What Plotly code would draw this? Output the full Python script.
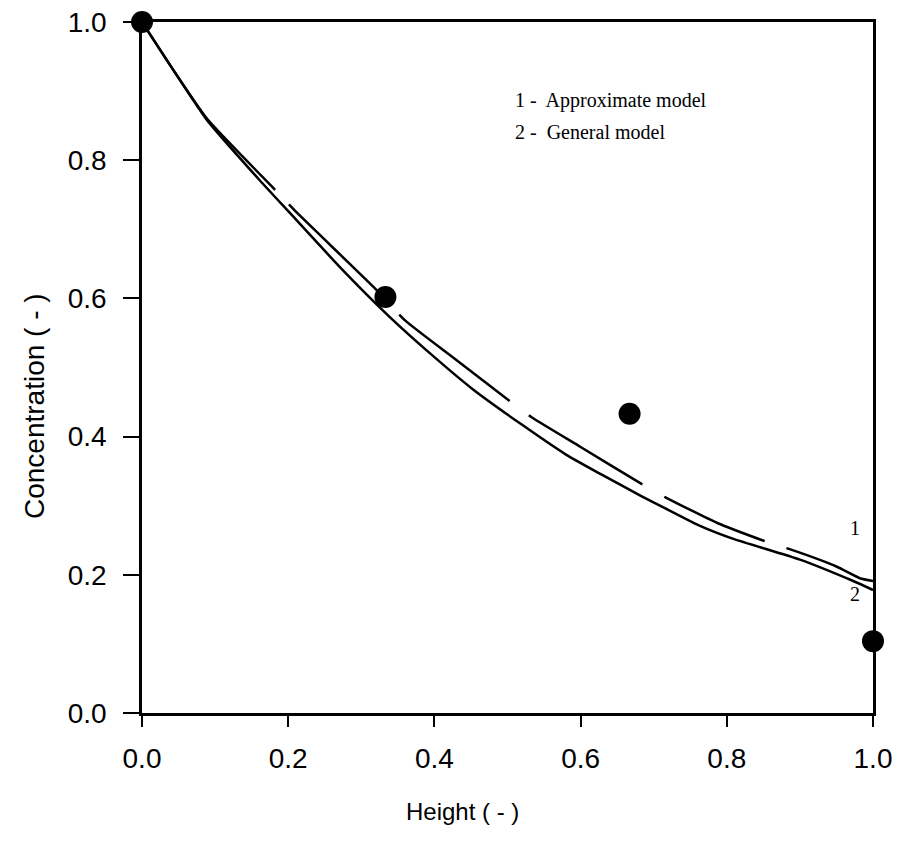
import plotly.graph_objects as go

# Experimental data
exp_x = [0.0, 0.333, 0.667, 1.0]
exp_y = [1.0, 0.602, 0.433, 0.104]

# Curve 2 - General model (solid)
gen_x = [0.0, 0.04, 0.089, 0.161, 0.202, 0.271, 0.339, 0.4, 0.452, 0.52, 0.58,
         0.627, 0.683, 0.718, 0.761, 0.809, 0.9, 0.973, 1.0]
gen_y = [1.0, 0.935, 0.858, 0.771, 0.724, 0.645, 0.573, 0.515, 0.469, 0.417, 0.374,
         0.346, 0.314, 0.295, 0.272, 0.252, 0.222, 0.191, 0.178]

# Curve 1 - Approximate model (dashed)
app_x = [0.0, 0.04, 0.089, 0.185, 0.212, 0.321, 0.359, 0.43, 0.506, 0.533, 0.6,
         0.686, 0.718, 0.787, 0.859, 0.889, 0.95, 0.982, 1.0]
app_y = [1.0, 0.935, 0.86, 0.754, 0.724, 0.612, 0.569, 0.511, 0.449, 0.428, 0.385,
         0.330, 0.311, 0.275, 0.246, 0.236, 0.212, 0.195, 0.191]

tick_vals = [0.0, 0.2, 0.4, 0.6, 0.8, 1.0]
tick_text = ["0.0", "0.2", "0.4", "0.6", "0.8", "1.0"]

legend_lines = ["1 -  Approximate model", "2 -  General model"]
x_title = "Height ( - )"
y_title = "Concentration ( - )"

fig = go.Figure()
fig.add_trace(go.Scatter(x=gen_x, y=gen_y, mode="lines",
                         line=dict(color="black", width=2.5, shape="spline", smoothing=0.5),
                         showlegend=False))
fig.add_trace(go.Scatter(x=app_x, y=app_y, mode="lines",
                         line=dict(color="black", width=2.5, shape="spline", smoothing=0.5,
                                   dash="215px,20px,134px,22px,140px,24px,133px,25px,110px,23px,400px"),
                         showlegend=False))
fig.add_trace(go.Scatter(x=exp_x, y=exp_y, mode="markers",
                         marker=dict(color="black", size=22),
                         cliponaxis=False, showlegend=False))

serif = dict(family="Liberation Serif, Times New Roman, serif", size=20, color="black")
fig.add_annotation(x=0.5075, y=0.886, text=legend_lines[0], showarrow=False,
                   xanchor="left", yanchor="middle", font=serif)
fig.add_annotation(x=0.5075, y=0.841, text=legend_lines[1], showarrow=False,
                   xanchor="left", yanchor="middle", font=serif)
fig.add_annotation(x=0.975, y=0.268, text="1", showarrow=False,
                   xanchor="center", yanchor="middle", font=serif)
fig.add_annotation(x=0.975, y=0.172, text="2", showarrow=False,
                   xanchor="center", yanchor="middle", font=serif)

sans_family = "Liberation Sans, Arial, sans-serif"
fig.add_annotation(xref="paper", yref="paper", x=0.439, y=-0.142, text=x_title,
                   showarrow=False, xanchor="center", yanchor="middle",
                   font=dict(family=sans_family, size=24, color="black"))
fig.add_annotation(xref="paper", yref="paper", x=-0.148, y=0.444, text=y_title,
                   showarrow=False, xanchor="center", yanchor="middle", textangle=-90,
                   font=dict(family=sans_family, size=28, color="black"))

sans = dict(family=sans_family, size=28, color="black")
fig.update_xaxes(range=[0, 1], tickvals=tick_vals, ticktext=tick_text,
                 showline=True, linecolor="black", linewidth=2.5, mirror=True,
                 ticks="outside", ticklen=11, tickwidth=2, tickcolor="black",
                 showgrid=False, zeroline=False, tickfont=sans, ticklabelstandoff=8,
                 automargin=False)
fig.update_yaxes(range=[0, 1], tickvals=tick_vals, ticktext=tick_text,
                 showline=True, linecolor="black", linewidth=2.5, mirror=True,
                 ticks="outside", ticklen=16, tickwidth=2, tickcolor="black",
                 showgrid=False, zeroline=False, tickfont=sans, ticklabelstandoff=11,
                 automargin=False)

fig.update_layout(width=903, height=841, margin=dict(l=142, r=30, t=22, b=128),
                  plot_bgcolor="white", paper_bgcolor="white")

fig.write_html("out.html")
